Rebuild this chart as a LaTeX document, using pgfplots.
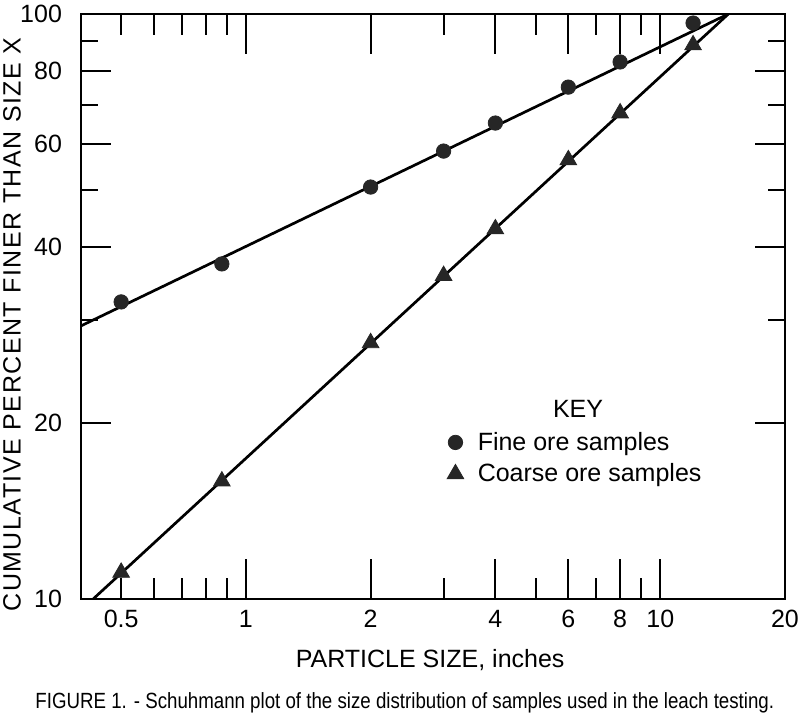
\documentclass[border=0pt]{standalone}
\usepackage{pgfplots}
\pgfplotsset{compat=1.18}
\usepackage{fontspec}
\setmainfont{Liberation Sans}
\newfontfamily\capfont[FakeStretch=0.85]{Liberation Sans}
\newfontfamily\ylabfont[LetterSpace=6]{Liberation Sans}

\pgfplotstableread{
x y
0.5 32.2
0.875 37.4
2 50.6
3 58.3
4 65.1
6 75.0
8 82.8
12 96.5
}\finedata
\pgfplotstableread{
x y
0.5 11.1
0.875 15.9
2 27.4
3 35.7
4 42.9
6 56.3
8 67.7
12 88.5
}\coarsedata

\begin{document}
\begin{tikzpicture}
\path[use as bounding box] (-40.5pt,-62.5pt) rectangle (359.5pt,299.5pt);
\begin{axis}[
  at={(0pt,0pt)}, anchor=south west,
  scale only axis, width=352pt, height=292.5pt,
  xmode=log, ymode=log, xmin=0.4, xmax=20, ymin=10, ymax=100,
  axis line style={line width=1.2pt},
  tick align=inside,
  tick style={line width=1pt, black},
  tick label style={font=\fontsize{12.5}{15}\selectfont},
  major tick length=20pt, minor tick length=10.5pt,
  xtick={1,2,4,6,8,10},
  xticklabels={1,2,4,6,8,10},
  minor xtick={0.5,0.6,0.7,0.8,0.9,3,5,7,9},
  ytick=\empty,
  xticklabel style={yshift=-2pt},
  legend style={draw=none, fill=none, at={(axis description cs:0.511,0.30)}, anchor=north west,
    font=\fontsize{12.5}{15}\selectfont, row sep=1.2pt},
  legend cell align=left,
]
\addplot[line width=1.35pt, black, forget plot] coordinates {(0.4,29.3) (14.6,100)};
\addplot[line width=1.35pt, black, forget plot] coordinates {(0.428,10) (14.6,100)};
\addplot[only marks, mark=*, mark size=3.6pt, black!85] table {\finedata};
\addlegendentry{\hspace{5pt}Fine ore samples}
\addplot[only marks, mark=triangle*, mark size=4.8pt, black!85] table {\coarsedata};
\addlegendentry{\hspace{5pt}Coarse ore samples}
\end{axis}
\begin{axis}[
  at={(0pt,0pt)}, anchor=south west,
  scale only axis, width=352pt, height=292.5pt,
  xmode=log, ymode=log, xmin=0.4, xmax=20, ymin=10, ymax=100,
  axis line style={line width=1.2pt},
  tick align=inside,
  tick style={line width=1pt, black},
  tick label style={font=\fontsize{12.5}{15}\selectfont},
  major tick length=15pt, minor tick length=8.5pt,
  xtick=\empty,
  ytick={10,20,40,60,80,100},
  yticklabels={10,20,40,60,80,100},
  minor ytick={30,50,70,90},
  yticklabel style={xshift=-6pt},
]
\end{axis}
\begin{axis}[
  at={(0pt,0pt)}, anchor=south west,
  scale only axis, width=352pt, height=292.5pt,
  xmode=log, ymode=log, xmin=0.4, xmax=20, ymin=10, ymax=100,
  clip=false,
  axis line style={draw=none},
  major tick length=0pt,
  tick style={draw=none},
  tick label style={font=\fontsize{12.5}{15}\selectfont},
  xtick={0.5,20},
  xticklabels={0.5,20},
  ytick=\empty,
  xticklabel style={yshift=-2pt},
]
\node[font=\fontsize{12.5}{15}\selectfont] at (axis description cs:0.706,0.325) {KEY};
\node[font=\fontsize{12.5}{15}\selectfont] at (axis description cs:0.496,-0.104) {PARTICLE SIZE, inches};
\node[font=\capfont\fontsize{11}{13}\selectfont] at (axis description cs:0.460,-0.177) {FIGURE 1. - Schuhmann plot of the size distribution of samples used in the leach testing.};
\node[font=\ylabfont\fontsize{12.5}{15}\selectfont, rotate=90] at (axis description cs:-0.098,0.469) {CUMULATIVE PERCENT FINER THAN SIZE X};
\end{axis}
\end{tikzpicture}
\end{document}
